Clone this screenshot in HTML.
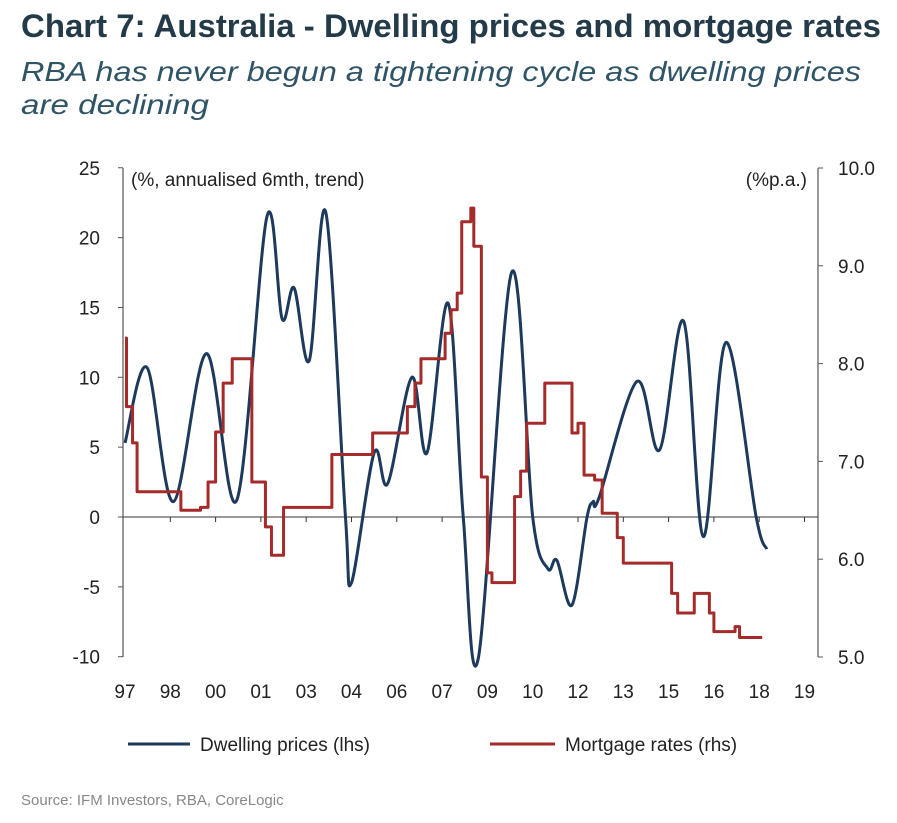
<!DOCTYPE html>
<html><head><meta charset="utf-8"><style>
html,body{margin:0;padding:0;background:#fff;}
svg{display:block;font-family:"Liberation Sans",sans-serif;}
</style></head><body>
<svg id="chart" width="897" height="823" viewBox="0 0 897 823">
<text x="21" y="37" font-size="32" font-weight="bold" fill="#233a48" textLength="860" lengthAdjust="spacingAndGlyphs">Chart 7: Australia - Dwelling prices and mortgage rates</text>
<text x="21" y="81" font-size="28" font-style="italic" fill="#2e5466" textLength="840" lengthAdjust="spacingAndGlyphs">RBA has never begun a tightening cycle as dwelling prices</text>
<text x="21" y="114" font-size="28" font-style="italic" fill="#2e5466" textLength="188" lengthAdjust="spacingAndGlyphs">are declining</text>
<g id="axes"></g>
<g id="series"></g>
<g>
<line x1="128" y1="744" x2="190" y2="744" stroke="#1d3a5c" stroke-width="3"/>
<text x="200" y="751" font-size="19" fill="#222">Dwelling prices (lhs)</text>
<line x1="490" y1="744" x2="555" y2="744" stroke="#a52a2a" stroke-width="3"/>
<text x="565" y="751" font-size="19" fill="#222">Mortgage rates (rhs)</text>
</g>
<text x="21" y="805" font-size="15" fill="#888">Source: IFM Investors, RBA, CoreLogic</text>
</svg>
<script>
const leftTicks=[25,20,15,10,5,0,-5,-10];
const rightTicks=[10,9,8,7,6,5];
const xLabels=["97","98","00","01","03","04","06","07","09","10","12","13","15","16","18","19"];
const dwellYears=[1997.0,1997.73,1998.6,1999.7,2000.7,2001.7,2002.2,2002.6,2003.1,2003.65,2004.3,2004.5,2005.25,2005.7,2006.5,2007.0,2007.7,2008.2,2008.7,2009.8,2010.5,2011.0,2011.3,2011.8,2012.3,2012.5,2012.7,2013.95,2014.7,2015.5,2016.15,2016.9,2017.9,2018.25];
const dwellValues=[5.3,10.7,1.1,11.7,1.2,21.5,14.2,16.4,11.2,21.8,0,-4.7,4.6,2.4,10.0,4.6,15.3,0,-10.1,17.5,0,-3.7,-3.1,-6.3,0,1.1,1.4,9.7,4.8,14.0,-1.4,12.5,0,-2.3];
const rateYears=[1997.0,1997.05,1997.25,1997.4,1997.55,1998.85,1999.5,1999.75,2000.0,2000.25,2000.55,2001.2,2001.65,2001.85,2002.25,2003.85,2005.2,2006.35,2006.6,2006.8,2007.6,2007.8,2008.0,2008.15,2008.45,2008.55,2008.8,2009.0,2009.15,2009.9,2010.1,2010.3,2010.9,2011.8,2012.0,2012.2,2012.55,2012.8,2013.3,2013.5,2015.1,2015.3,2015.85,2016.35,2016.5,2017.2,2017.35,2018.1];
const rateValues=[8.26,7.56,7.19,6.69,6.69,6.5,6.53,6.79,7.3,7.8,8.05,6.79,6.33,6.04,6.53,7.07,7.29,7.56,7.8,8.05,8.31,8.55,8.72,9.45,9.59,9.2,6.84,5.86,5.76,6.64,6.9,7.39,7.8,7.29,7.39,6.86,6.81,6.47,6.22,5.96,5.65,5.45,5.65,5.45,5.26,5.31,5.2,5.2];
const NS="http://www.w3.org/2000/svg";
const X0=125,PXY=30.2,YEAR0=1997;
function xS(yr){return X0+(yr-YEAR0)*PXY;}
function yL(v){return 517-v*13.97;}
function yR(r){return 168+(10-r)*97.8;}
function mk(tag,attrs,parent){const e=document.createElementNS(NS,tag);for(const k in attrs)e.setAttribute(k,attrs[k]);parent.appendChild(e);return e;}
const axes=document.getElementById('axes');
const series=document.getElementById('series');
let la=mk('line',{x1:123,y1:168,x2:123,y2:657,stroke:'#555','stroke-width':1.2},axes);


leftTicks.forEach(v=>{
  const t=mk('line',{x1:118,x2:123,y1:yL(v),y2:yL(v),stroke:'#555'},axes);
  
  
  const l=mk('text',{x:100,y:yL(v)+7,'font-size':19,'text-anchor':'end',fill:'#222'},axes);
  l.textContent=v;
  
  
});
let ra=mk('line',{x1:818,y1:168,x2:818,y2:657,stroke:'#555','stroke-width':1.2},axes);


rightTicks.forEach(r=>{
  const t=mk('line',{x1:818,x2:823,y1:yR(r),y2:yR(r),stroke:'#555'},axes);
  
  
  const l=mk('text',{x:838,y:yR(r)+7,'font-size':19,fill:'#222'},axes);
  l.textContent=r.toFixed(1);
  
  
});
let z=mk('line',{x1:123,x2:818,y1:yL(0),y2:yL(0),stroke:'#333','stroke-width':1},axes);


xLabels.forEach((s,i)=>{
  const yr=YEAR0+i*1.5, x=xS(yr);
  if(i>0){const t=mk('line',{x1:x,x2:x,y1:yL(0),y2:yL(0)+5,stroke:'#333'},axes);
    
    }
  const l=mk('text',{x:x,y:698,'font-size':19,'text-anchor':'middle',fill:'#222'},axes);
  l.textContent=s;
  
  
});
let u1=mk('text',{x:131,y:186,'font-size':19,fill:'#222'},axes);u1.textContent='(%, annualised 6mth, trend)';


let u2=mk('text',{x:807,y:186,'font-size':19,'text-anchor':'end',fill:'#222'},axes);u2.textContent='(%p.a.)';


const P=dwellYears.map((yr,i)=>[xS(yr),yL(dwellValues[i])]);
let d='M'+P[0][0]+','+P[0][1];
for(let i=0;i<P.length-1;i++){
  const p0=P[i-1]||P[i],p1=P[i],p2=P[i+1],p3=P[i+2]||P[i+1];
  const c1=[p1[0]+(p2[0]-p0[0])/6,p1[1]+(p2[1]-p0[1])/6];
  const c2=[p2[0]-(p3[0]-p1[0])/6,p2[1]-(p3[1]-p1[1])/6];
  d+=`C${c1[0]},${c1[1]} ${c2[0]},${c2[1]} ${p2[0]},${p2[1]}`;
}
const dl=mk('path',{d:d,fill:'none',stroke:'#1d3a5c','stroke-width':3,'stroke-linejoin':'round'},series);


let r='M'+xS(rateYears[0])+','+yR(rateValues[0]);
for(let i=1;i<rateYears.length;i++){
  r+='L'+xS(rateYears[i])+','+yR(rateValues[i-1])+'L'+xS(rateYears[i])+','+yR(rateValues[i]);
}
const rl=mk('path',{d:r,fill:'none',stroke:'#a52a2a','stroke-width':3,'stroke-linejoin':'round'},series);


</script>
</body></html>
